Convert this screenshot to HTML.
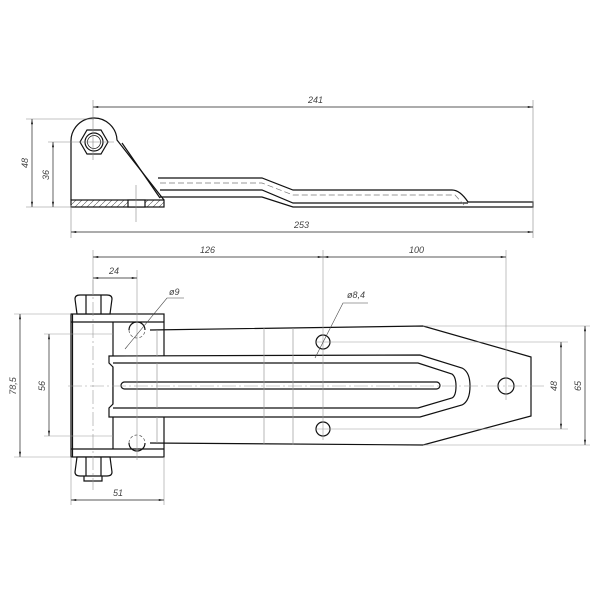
<!DOCTYPE html>
<html><head><style>html,body{margin:0;padding:0;background:#fff}svg{display:block}
text{font-family:"Liberation Sans",sans-serif;font-style:italic;font-size:9px;fill:#444}</style></head>
<body>
<svg width="600" height="600" viewBox="0 0 600 600" xmlns="http://www.w3.org/2000/svg">
<defs>
<marker id="a" viewBox="0 0 10 4" refX="10" refY="2" markerWidth="8" markerHeight="3" orient="auto-start-reverse"><path d="M0,0L10,2L0,4z" fill="#222"/></marker>
<pattern id="h" width="6" height="6" patternUnits="userSpaceOnUse"><path d="M0,6L6,0" stroke="#555" stroke-width="0.6"/></pattern>
</defs>
<g fill="none" stroke="#111" stroke-width="1.2">
<!-- SIDE VIEW -->
<path d="M71,200 L71,142 A23,23 0 0 1 117,140 L164,200"/>
<path d="M122,143 L160,198"/>
<polygon points="108,142 101,154 87,154 80,142 87,130 101,130"/>
<circle cx="94" cy="142" r="9"/><circle cx="94" cy="142" r="6.5" stroke-width="0.7"/>
<rect x="71" y="200" width="93" height="7" fill="url(#h)"/>
<rect x="128" y="200" width="17" height="7" fill="#fff"/>
<path d="M158,178 L262,178 L293,190 L452,190 Q460,190 468,202"/>
<path d="M160,190 L262,190 L293,203 L468,203"/>
<path d="M160,197 L262,197 L293,207 L533,207 L533,202 L468,202"/>
</g>
<path d="M160,183 L262,183 L293,195 L455,195 L464,205" fill="none" stroke="#777" stroke-width="0.7" stroke-dasharray="6,3"/>
<g stroke="#888" stroke-width="0.6" fill="none">
<path d="M93,100 V160 M71,205 V238 M533,100 V238 M26,119 H94 M48,142 H94 M26,207 H71 M136,185 V222 M75,142 H114"/>
</g>
<g stroke="#222" stroke-width="0.7" marker-start="url(#a)" marker-end="url(#a)">
<line x1="93" y1="107" x2="533" y2="107"/>
<line x1="71" y1="232" x2="533" y2="232"/>
<line x1="32" y1="119" x2="32" y2="207"/>
<line x1="53" y1="142" x2="53" y2="207"/>
</g>
<text x="308" y="103">241</text>
<text x="294" y="228">253</text>
<text transform="translate(28,163) rotate(-90)" text-anchor="middle">48</text>
<text transform="translate(49,175) rotate(-90)" text-anchor="middle">36</text>

<!-- PLAN VIEW -->
<g fill="none" stroke="#111" stroke-width="1.2">
<rect x="71" y="314" width="93" height="143" fill="#fff"/>
<path d="M71,322 H164 M71,449 H164 M113,322 V449 M72.5,314 V457"/>
<path d="M77,314 L75,299 Q75,295 80,295 L107,295 Q112,295 112,299 L110,314 Z M86,295 V314 M101,295 V314" fill="#fff"/>
<path d="M77,457 L75,472 Q75,476 80,476 L107,476 Q112,476 112,472 L110,457 Z M86,457 V476 M101,457 V476 M84,476 V481 H102 V476" fill="#fff"/>
<path d="M150,330 L423,326 L531,357 L531,416 L423,445 L150,443"/>
<path d="M109,356 L420,355 L462,368 Q470,372 470,386 Q470,401 462,405 L420,417 L109,417 L109,408 L113,404 L113,367 L109,363 Z" fill="#fff"/>
<path d="M113,363 L418,363 L452,374 Q456,377 456,386 Q456,396 452,398 L418,408 L113,408"/>
<rect x="121" y="382" width="319" height="7" rx="3.5"/>
<circle cx="323" cy="342" r="7"/><circle cx="323" cy="429" r="7"/><circle cx="506" cy="386" r="8"/>
<path d="M129,330 A8,8 0 0 1 145,330 M129,443 A8,8 0 0 0 145,443"/>
</g>
<g fill="none" stroke="#555" stroke-width="0.7">
<path d="M129,330 A8,8 0 0 0 145,330 M129,443 A8,8 0 0 1 145,443" stroke-dasharray="3,2"/>
<path d="M157,330 V356 M157,417 V443 M157,363 V408 M264,328 V445 M293,328 V445" stroke="#999"/>
</g>
<g stroke="#999" stroke-width="0.6" fill="none">
<path d="M68,386 H545" stroke-dasharray="14,3,2,3"/>
<path d="M93,280 V490" stroke-dasharray="14,3,2,3"/>
<path d="M93,250 V295 M137,270 V460 M323,250 V440 M506,250 V400 M71,457 V505 M164,457 V505"/>
<path d="M14,314 H71 M14,457 H71 M44,334 H113 M44,436 H113 M316,342 H568 M316,429 H568 M423,326 H590 M423,445 H590"/>
</g>
<g stroke="#222" stroke-width="0.7" marker-start="url(#a)" marker-end="url(#a)">
<line x1="93" y1="257" x2="323" y2="257"/>
<line x1="323" y1="257" x2="506" y2="257"/>
<line x1="93" y1="278" x2="137" y2="278"/>
<line x1="20" y1="314" x2="20" y2="457"/>
<line x1="49" y1="334" x2="49" y2="436"/>
<line x1="561" y1="342" x2="561" y2="429"/>
<line x1="585" y1="326" x2="585" y2="445"/>
<line x1="71" y1="500" x2="164" y2="500"/>
</g>
<g stroke="#444" stroke-width="0.6" fill="none">
<path d="M125,349 L167,298 H184 M315,358 L343,303 H368"/>
</g>
<text x="200" y="253">126</text>
<text x="409" y="253">100</text>
<text x="109" y="274">24</text>
<text x="169" y="295">ø9</text>
<text x="347" y="298">ø8,4</text>
<text x="113" y="496">51</text>
<text transform="translate(16,386) rotate(-90)" text-anchor="middle">78,5</text>
<text transform="translate(45,386) rotate(-90)" text-anchor="middle">56</text>
<text transform="translate(557,386) rotate(-90)" text-anchor="middle">48</text>
<text transform="translate(581,386) rotate(-90)" text-anchor="middle">65</text>
</svg>
</body></html>
